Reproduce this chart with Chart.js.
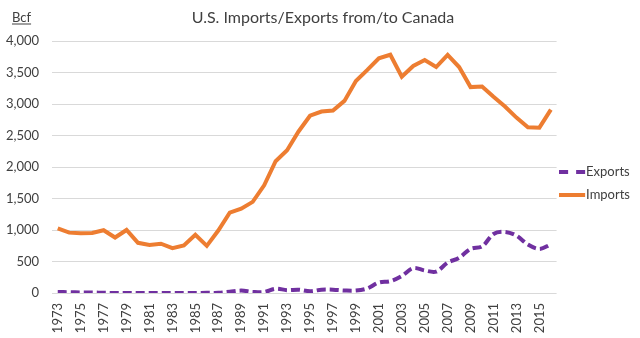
<!DOCTYPE html>
<html>
<head>
<meta charset="utf-8">
<script src="https://cdn.jsdelivr.net/npm/chart.js@4"></script>
<style>
html,body{margin:0;padding:0;background:#fff;}
#c{display:block;}
</style>
</head>
<body>
<canvas id="c" width="640" height="338"></canvas>
<script>
const years = [];
for (let y = 1973; y <= 2016; y++) years.push(String(y));

const exportsBcf = [15, 13, 9, 9, 3, 1, 1, 0, 0, 0, 0, 0, 0, 3, 3, 20, 38, 17, 15, 68,
  45, 53, 28, 52, 52, 40, 39, 73, 167, 189, 271, 395, 358, 341, 482, 559, 701, 739, 937, 971,
  911, 770, 700, 771];
const importsBcf = [1028, 959, 948, 954, 997, 881, 1001, 797, 762, 783, 712, 755, 926, 749, 993, 1276, 1339, 1448, 1710, 2094,
  2267, 2566, 2816, 2883, 2899, 3052, 3368, 3544, 3729, 3785, 3437, 3607, 3700, 3590, 3783, 3589, 3271, 3280, 3117, 2963,
  2786, 2634, 2626, 2914];
const yTicks = [0, 500, 1000, 1500, 2000, 2500, 3000, 3500, 4000];

const FONT = 'Lato, "Open Sans", sans-serif';
const TXT = '#404040';
const PURPLE = '#7030A0';
const ORANGE = '#ED7D31';

// legend swatch: 26px line in a 28px-wide image
function swatch(color, dashed) {
  const c = document.createElement('canvas');
  c.width = 28; c.height = 6;
  const g = c.getContext('2d');
  g.fillStyle = color;
  if (dashed) {
    g.fillRect(0, 1, 9, 4);
    g.fillRect(17, 1, 9, 4);
  } else {
    g.fillRect(0, 1, 26, 4);
  }
  return c;
}

const bcfPlugin = {
  id: 'bcf',
  afterDraw(chart) {
    const ctx = chart.ctx;
    ctx.save();
    ctx.font = '13px ' + FONT;
    ctx.fillStyle = TXT;
    ctx.textBaseline = 'alphabetic';
    ctx.textAlign = 'left';
    const t = 'Bcf';
    ctx.fillText(t, 12, 22);
    const w = ctx.measureText(t).width;
    ctx.fillRect(12, 23.5, w, 1);
    ctx.restore();
  }
};

new Chart(document.getElementById('c'), {
  type: 'line',
  data: {
    labels: years,
    datasets: [
      {
        label: 'Exports',
        data: exportsBcf,
        borderColor: PURPLE,
        backgroundColor: PURPLE,
        borderWidth: 4,
        borderDash: [9, 4],
        tension: 0.35,
        pointRadius: 0,
        pointStyle: swatch(PURPLE, true),
        fill: false
      },
      {
        label: 'Imports',
        data: importsBcf,
        borderColor: ORANGE,
        backgroundColor: ORANGE,
        borderWidth: 4,
        tension: 0,
        pointRadius: 0,
        pointStyle: swatch(ORANGE, false),
        fill: false
      }
    ]
  },
  options: {
    responsive: false,
    devicePixelRatio: 1,
    animation: false,
    layout: { padding: { left: 6, right: 0, top: 0, bottom: 5 } },
    plugins: {
      title: {
        display: true,
        text: 'U.S. Imports/Exports from/to Canada',
        color: TXT,
        font: { family: FONT, size: 16, weight: 'normal' },
        padding: { top: 8, bottom: 14 }
      },
      legend: {
        position: 'right',
        title: { display: true, text: ' ', font: { size: 10 }, padding: { top: 11, bottom: 11 } },
        labels: {
          usePointStyle: true,
          pointStyleWidth: 13,
          boxWidth: 13,
          boxHeight: 4,
          color: TXT,
          font: { family: FONT, size: 13 },
          padding: 10
        }
      },
      tooltip: { enabled: false }
    },
    scales: {
      x: {
        offset: true,
        grid: { display: false, drawTicks: false },
        border: { display: false },
        afterFit: function(s) { s.height = 40; },
        ticks: {
          autoSkip: false,
          maxRotation: 90,
          minRotation: 90,
          padding: 10,
          color: TXT,
          font: { family: FONT, size: 13 },
          callback: function(v, i) { return i % 2 === 0 ? years[i] : ''; }
        }
      },
      y: {
        min: 0,
        max: 4000,
        afterFit: function(s) { s.width = 46; },
        afterBuildTicks: function(axis) { axis.ticks = yTicks.map(v => ({ value: v })); },
        grid: { color: '#d9d9d9', lineWidth: 1, drawTicks: false },
        border: { display: false },
        ticks: {
          padding: 13,
          color: TXT,
          font: { family: FONT, size: 13 },
          callback: function(v) { return v.toLocaleString('en-US'); }
        }
      }
    }
  },
  plugins: [bcfPlugin]
});
</script>
</body>
</html>
